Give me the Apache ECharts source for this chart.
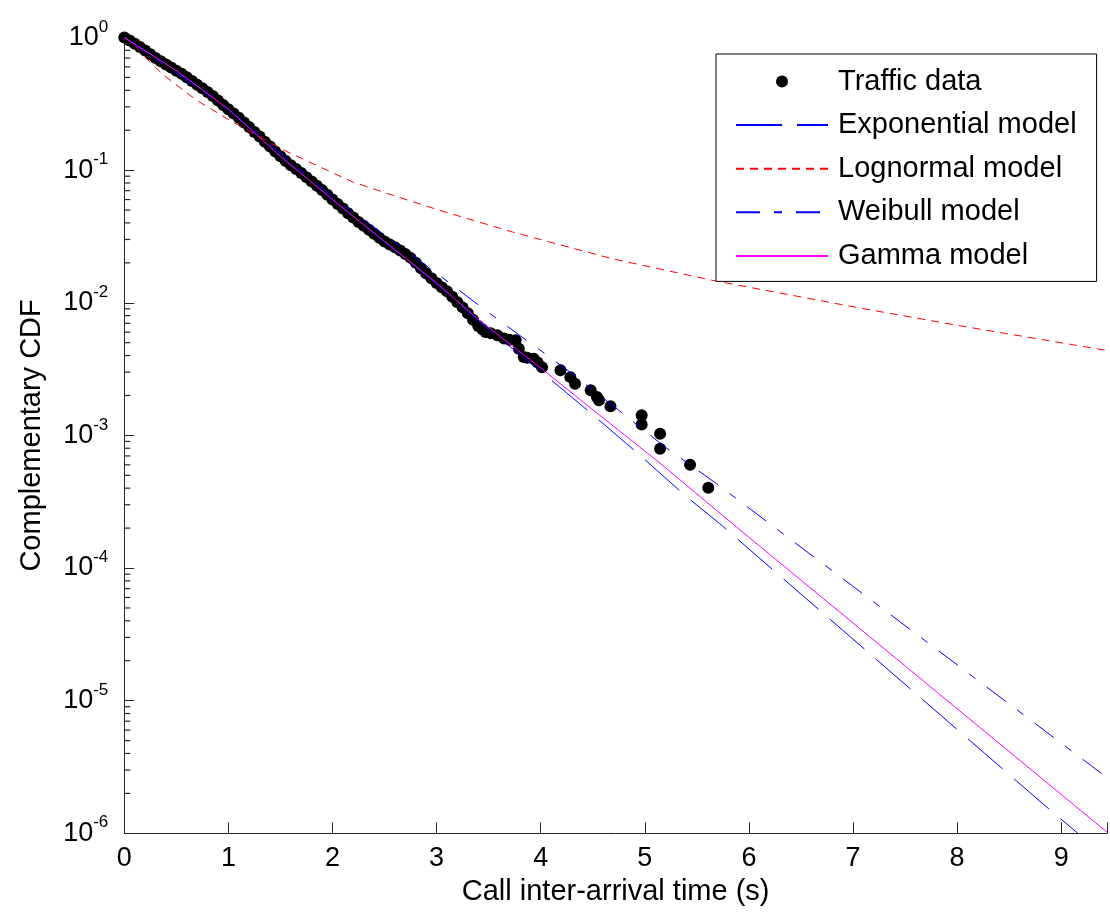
<!DOCTYPE html>
<html>
<head>
<meta charset="utf-8">
<script src="https://cdn.jsdelivr.net/npm/echarts@6/dist/echarts.min.js"></script>
<style>
html,body{margin:0;padding:0;background:#fff;}
#chart{width:1110px;height:915px;}
</style>
</head>
<body>
<div id="chart"></div>
<script>
// ---- Data ----
const trafficX = [0.00,0.05,0.10,0.15,0.20,0.25,0.30,0.35,0.40,0.45,0.50,0.55,0.60,0.65,0.70,0.75,0.80,0.85,0.90,0.95,
  1.00,1.05,1.10,1.15,1.20,1.25,1.30,1.35,1.40,1.45,1.50,1.55,1.60,1.65,1.70,1.75,1.80,1.85,1.90,1.95,
  2.00,2.05,2.10,2.15,2.20,2.25,2.30,2.35,2.40,2.45,2.50,2.55,2.60,2.65,2.70,2.75,2.80,2.85,2.90,2.95,
  3.00,3.05,3.10,3.15,3.20,3.25,3.30,3.35,3.40,3.44,3.47,3.52,3.584,3.648,3.70,3.76,3.79,3.837,3.87,3.933,3.97,4.013,
  4.19,4.285,4.33,4.48,4.54,4.56,4.67,4.97,4.97,5.147,5.147,5.435,5.61];
const trafficY = [1.0,0.951,0.899,0.847,0.798,0.748,0.700,0.661,0.625,0.594,0.562,0.532,0.501,0.470,0.441,0.414,0.389,0.362,0.335,0.310,
  0.288,0.267,0.248,0.229,0.211,0.194,0.179,0.164,0.151,0.138,0.127,0.117,0.109,0.102,0.0951,0.0883,0.0822,0.0764,0.0708,0.0652,
  0.0600,0.0555,0.0513,0.0473,0.0439,0.0407,0.0380,0.0355,0.0331,0.0309,0.0290,0.0275,0.0262,0.0248,0.0233,0.0218,0.0200,0.0182,0.0166,0.0153,
  0.0141,0.0131,0.0122,0.0111,0.0101,0.00923,0.00832,0.00745,0.00668,0.00631,0.00603,0.00589,0.00569,0.00537,0.00527,0.00521,0.00451,0.00390,0.00385,0.00379,0.00355,0.00327,
  0.00310,0.00275,0.00245,0.00219,0.00195,0.00184,0.00166,0.00142,0.00121,0.00103,0.000794,0.000601,0.000403];

const expX = [0, 0.5, 1.0, 1.5, 2.0, 2.5, 3.0, 3.5, 4.046, 4.508, 4.956, 5.387, 5.72, 8.835, 9.16];
const expY = [1.0, 0.562, 0.289, 0.128, 0.060, 0.0288, 0.0139, 0.0063, 0.00284, 0.001416, 0.000706, 0.000352, 0.000216, 0.00000164, 0.000001];

const lognX = [0, 0.1, 0.2, 0.372, 0.693, 1.012, 1.33, 1.571, 1.81, 2.19, 2.577, 3.024, 3.726, 4.684, 5.642, 7.0, 8.0, 9.44];
const lognY = [1.0, 0.871, 0.708, 0.525, 0.337, 0.238, 0.173, 0.137, 0.112, 0.0817, 0.0647, 0.0499, 0.0342, 0.0215, 0.0148, 0.00933, 0.00676, 0.00437];

const weibX = [0, 1.0, 2.0, 3.025, 3.47, 3.82, 4.24, 4.748, 5.195, 5.69, 9.44];
const weibY = [1.0, 0.288, 0.0631, 0.01614, 0.00877, 0.00552, 0.00318, 0.00155, 0.000817, 0.000432, 0.00000263];

const gammaX = [0, 0.5, 1.0, 1.5, 2.0, 2.5, 3.0, 3.41, 4.046, 4.49, 5.147, 5.88, 8.835, 9.44];
const gammaY = [1.0, 0.562, 0.288, 0.127, 0.060, 0.029, 0.0141, 0.0074, 0.00302, 0.001585, 0.000617, 0.000204, 0.00000251, 0.00000102];

const xTicks = [0,1,2,3,4,5,6,7,8,9];
const yDecades = [-6,-5,-4,-3,-2,-1,0];
const minorMantissas = [2,3,4,5,6,7,8,9];
const seriesNames = ['Traffic data','Exponential model','Lognormal model','Weibull model','Gamma model'];

// ---- Build ----
const zip = (xs, ys) => xs.map((x, i) => [x, ys[i]]);
const FONT = 'Liberation Sans, Arial, Helvetica, sans-serif';

// minor tick values (2..9 x 10^k) on the log axis, drawn as tiny marks at x = 0
const minorTicks = [];
for (let k = -6; k < 0; k++) minorMantissas.forEach(m => minorTicks.push([0, m * Math.pow(10, k)]));

const chart = echarts.init(document.getElementById('chart'), null, {renderer: 'canvas'});
const axisColor = '#262626';
const option = {
  backgroundColor: '#fff',
  animation: false,
  textStyle: {fontFamily: FONT, color: '#000'},
  grid: {left: 124.3, top: 37.5, right: 0, bottom: 81.7, containLabel: false},
  legend: {
    orient: 'vertical',
    left: 716, top: 54,
    data: [
      {name: seriesNames[0]},
      {name: seriesNames[1], itemStyle: {opacity: 0}},
      {name: seriesNames[2], itemStyle: {opacity: 0}},
      {name: seriesNames[3], itemStyle: {opacity: 0}},
      {name: seriesNames[4], itemStyle: {opacity: 0}}
    ],
    backgroundColor: '#fff',
    borderColor: '#000', borderWidth: 1,
    padding: [13, 20, 11, 19],
    itemWidth: 92, itemHeight: 12, itemGap: 14.6,
    textStyle: {fontSize: 29, lineHeight: 29, color: '#000', fontFamily: FONT, padding: [0, 0, 0, 5]},
    selectedMode: false
  },
  xAxis: {
    type: 'value', min: 0, max: 9.44, interval: 1,
    name: 'Call inter-arrival time (s)', nameLocation: 'middle', nameGap: 40,
    nameTextStyle: {fontSize: 29, color: '#000', fontFamily: FONT},
    axisLine: {show: true, onZero: false, lineStyle: {color: axisColor, width: 1}},
    axisTick: {show: true, inside: true, length: 11, lineStyle: {color: axisColor}},
    axisLabel: {fontSize: 27, color: '#000', margin: 12, fontFamily: FONT,
      formatter: v => (xTicks.indexOf(v) >= 0 ? String(v) : '')},
    splitLine: {show: false}
  },
  yAxis: {
    type: 'log', logBase: 10, min: 1e-6, max: 1, interval: 1,
    name: 'Complementary CDF', nameLocation: 'middle', nameGap: 78,
    nameTextStyle: {fontSize: 29, color: '#000', fontFamily: FONT},
    axisLine: {show: true, onZero: false, lineStyle: {color: axisColor, width: 1}},
    axisTick: {show: true, inside: true, length: 10, lineStyle: {color: axisColor}},
    axisLabel: {
      margin: 16, color: '#000', fontFamily: FONT,
      formatter: v => {
        const e = Math.round(Math.log10(v));
        return yDecades.indexOf(e) >= 0 ? '{b|10}{e|' + e + '}' : '';
      },
      rich: {
        b: {fontSize: 27, lineHeight: 38, fontFamily: FONT, color: '#000'},
        e: {fontSize: 17, lineHeight: 4, verticalAlign: 'top', fontFamily: FONT, color: '#000'}
      }
    },
    splitLine: {show: false}
  },
  series: [
    {name: seriesNames[0], type: 'scatter', data: zip(trafficX, trafficY), symbol: 'circle', symbolSize: 12,
      itemStyle: {color: '#000', opacity: 1}, clip: false, z: 2},
    {name: seriesNames[1], type: 'line', data: zip(expX, expY), symbol: 'none', showSymbol: false,
      lineStyle: {color: '#0000ff', width: 1, type: [46, 15]}, itemStyle: {color: '#0000ff'}, clip: true, z: 3},
    {name: seriesNames[2], type: 'line', data: zip(lognX, lognY), symbol: 'none', showSymbol: false,
      lineStyle: {color: '#ff0000', width: 1, type: [8, 6]}, itemStyle: {color: '#ff0000'}, clip: true, z: 3},
    {name: seriesNames[3], type: 'line', data: zip(weibX, weibY), symbol: 'none', showSymbol: false,
      lineStyle: {color: '#0000ff', width: 1, type: [24, 14, 8, 14]}, itemStyle: {color: '#0000ff'}, clip: true, z: 3},
    {name: seriesNames[4], type: 'line', data: zip(gammaX, gammaY), symbol: 'none', showSymbol: false,
      lineStyle: {color: '#ff00ff', width: 1, type: 'solid'}, itemStyle: {color: '#ff00ff'}, clip: true, z: 3},
    {name: 'yMinorTicks', type: 'scatter', data: minorTicks, symbol: 'rect', symbolSize: [6, 1.2], symbolOffset: [3, 0],
      itemStyle: {color: axisColor, opacity: 1}, clip: false, silent: true, z: 4}
  ]
};
chart.setOption(option);
</script>
</body>
</html>
